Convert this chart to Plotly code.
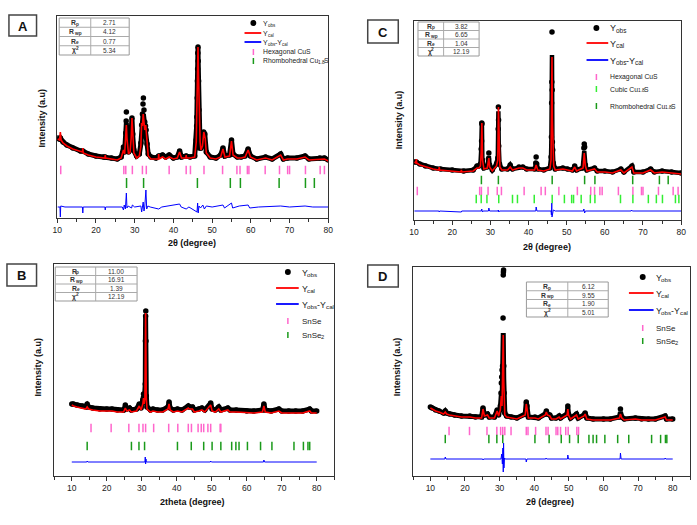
import numpy as np
import plotly.graph_objects as go

W, H = 697, 525
FONT = "Liberation Sans"

# ---------------- Panel A : CuS / Cu1.8S ----------------
A_obs = [(10.1,80),(10.5,79),(10.8,80),(11.5,76),(12.5,73),(14,70),(16,67),(16.6,67),(18,64),(20,62),(22,61),
         (22.4,61),(24,60),(25.5,59),(26.5,61),(27.1,71),(27.4,66),(27.7,85),(27.8,97),(27.85,106),(27.95,88),
         (28.1,74),(28.4,66),(28.8,68),(29.1,82),(29.3,100),(29.5,84),(29.8,68),(30.5,62),(31.2,64),(31.6,75),
         (31.8,93),(32.0,104),(32.15,114),(32.25,120),(32.4,108),(32.6,96),(32.8,92),(32.95,88),(33.2,74),
         (33.5,64),(34.2,61),(35.5,60),(36.2,62),(37.2,63),(38.0,61),(38.9,63),(40.0,60),(41.0,61),(41.6,67),
         (42.1,61),(43.3,62),(44.3,61),(45.5,62),(45.9,78),(46.0,92),(46.05,101),(46.15,120),(46.2,137),
         (46.25,149),(46.3,165),(46.35,171),(46.4,157),(46.5,137),(46.6,108),(46.7,83),(46.9,70),(47.1,70),
         (47.5,74),(47.8,86),(48.1,84),(48.5,66),(49.5,61),(51.0,60),(52.2,63),(52.8,70),(53.3,62),(54.5,63),
         (55.0,78),(55.4,64),(56.5,61),(57.5,61),(58.5,62),(59.3,69),(59.9,62),(61.5,59),(63.8,61),(65.5,59),
         (67.7,64),(68.4,59),(69.5,60),(71.9,60),(74.0,62),(75.0,59),(77.8,60),(79.0,60),(80.0,58)]
A_cal = [(10.1,79),(10.6,78),(10.8,86),(11.0,78),(11.5,75),(12.5,72),(14,69),(16,66),(16.5,66),(16.6,70),
         (16.7,65),(18,63),(20,61),(22.3,60),(22.4,63),(22.5,60),(24,59),(25.5,58),(26.5,60),(27.1,68),
         (27.4,64),(27.7,80),(27.85,93),(28.0,80),(28.4,64),(28.8,66),(29.1,80),(29.3,100),(29.5,80),(29.8,65),
         (30.5,60),(31.2,62),(31.6,72),(31.8,95),(32.0,92),(32.2,104),(32.4,96),(32.6,88),(32.85,93),(33.0,86),
         (33.2,70),(33.5,62),(34.2,59),(35.5,59),(36.1,59),(36.2,64),(36.3,59),(37.2,61),(38.0,59),(38.9,61),
         (40.0,59),(41.0,60),(41.6,66),(42.1,60),(43.2,60),(43.3,63),(43.4,60),(44.3,60),(45.5,61),(45.9,76),
         (46.1,120),(46.3,168),(46.35,171),(46.5,140),(46.7,100),(46.9,76),(47.1,68),(47.5,72),(47.85,86),
         (48.2,80),(48.5,65),(49.5,60),(51.0,59),(52.2,61),(52.8,69),(53.3,61),(54.5,62),(55.0,77),(55.4,63),
         (56.5,60),(57.5,60),(58.5,61),(59.3,68),(59.9,61),(61.5,58),(63.8,60),(65.5,58),(67.7,63),(68.4,58),
         (69.5,59),(71.9,59),(74.0,61),(75.0,58),(77.8,59),(79.0,59),(80.0,57)]
A_diff = [(10.1,11),(10.7,11),(10.8,1),(10.9,12),(12,11),(16.5,11),(16.6,5),(16.7,11),(22.3,11),(22.4,8),
          (22.5,11),(26.8,11),(27.1,8),(27.3,13),(27.6,9),(27.85,25),(28.0,10),(28.3,12),(29.2,10),(29.4,13),
          (30,11),(31.6,12),(31.8,6),(32.0,14),(32.2,16),(32.4,7),(32.6,11),(32.9,28),(33.1,9),(33.4,12),(34,11),
          (36.2,9),(37,11),(41.6,14),(42,11),(43.3,9),(44,11),(46.1,6),(46.25,15),(46.4,5),(46.6,12),(47.0,10),
          (47.6,13),(48,9),(48.5,12),(50,11),(52.8,13),(53.2,10),(55.0,15),(55.3,10),(57,12),(59.3,13),(59.7,10),
          (62,11),(67.7,12),(70,11),(74,12),(76,11),(78,11),(80,11)]
A_hex_CuS = [10.9,27.2,27.7,29.4,32.0,33.0,38.9,43.3,44.4,47.9,52.7,56.4,57.2,59.1,59.5,63.7,67.4,69.5,70.0,74.1,77.9,79.0]
A_rhomb = [27.9,32.3,46.2,54.7,57.3,67.3,74.1,76.4]
A_stats = ["2.71", "4.12", "0.77", "5.34"]

# ---------------- Panel C : CuS / Cu1.8S (cubic + rhombohedral) ----------------
C_obs = [(10.1,58),(10.6,58),(11.5,56),(13,54),(15,52),(17,51),(20,50),(23,49),(25.5,50),(26.5,54),(27.0,54),
         (27.4,56),(27.6,71),(27.7,79),(27.75,97),(27.8,96),(27.9,60),(28.3,52),(29.2,53),(29.5,61),(29.6,67),
         (29.8,55),(30.5,50),(31.6,56),(31.8,58),(31.95,62),(32.05,91),(32.1,113),(32.15,100),(32.2,74),
         (32.4,56),(33,51),(34.5,51),(35.2,55),(35.8,51),(37.5,53),(38.5,53),(39.5,51),(41.6,51),(41.9,57),
         (42.0,63),(42.15,56),(42.5,51),(44,50),(45.6,52),(45.9,63),(46.0,83),(46.05,117),(46.1,138),
         (46.15,188),(46.2,130),(46.25,78),(46.35,70),(46.5,57),(47,51),(49,52),(50.2,51),(51.5,50),(52.1,54),
         (52.6,50),(54.2,52),(54.5,72),(54.6,76),(54.7,73),(54.9,55),(55.3,50),(57.3,52),(58,49),(60,49),
         (62,48),(64.2,51),(65,48),(67.1,54),(67.6,48),(70,48),(72,51),(73,48),(75,49),(77.5,48),(80,47)]
C_cal = [(10.1,58),(10.5,57),(10.6,61),(10.7,57),(11.5,55),(13,53),(15,51),(16.5,50),(16.6,53),(16.7,50),
         (20,49),(22.3,48),(22.4,50),(22.5,48),(25.5,49),(26.5,52),(27.0,52),(27.4,54),(27.6,68),(27.77,97),
         (27.95,60),(28.3,51),(29.2,52),(29.6,62),(29.8,53),(30.5,49),(31.6,54),(31.8,57),(31.95,60),
         (32.12,113),(32.3,62),(32.5,53),(33,50),(34.5,50),(35.2,53),(35.8,50),(37.5,52),(38.5,52),(39.5,50),
         (41.6,50),(42.0,55),(42.4,50),(44,49),(45.6,51),(45.9,60),(46.05,110),(46.15,163),(46.25,100),
         (46.4,62),(46.6,54),(47,50),(49,51),(50.2,50),(51.5,49),(52.1,53),(52.6,49),(54.3,52),(54.6,67),
         (54.9,54),(55.3,49),(57.3,51),(58,48),(60,48),(62,47),(64.2,50),(65,47),(67.1,53),(67.6,47),(70,47),
         (72,50),(73,47),(75,48),(77.5,47),(80,46)]
C_diff = [(10.1,9),(16.5,9),(16.6,8),(16.7,9),(22.4,8),(22.5,9),(27.6,9),(27.75,11),(27.9,8),(28.1,9),
          (29.5,9),(29.6,12),(29.8,9),(32.0,9),(32.1,10),(32.2,8),(32.4,9),(41.9,9),(42,13),(42.2,9),(45.9,9),
          (46.0,5),(46.1,17),(46.15,3),(46.2,15),(46.3,6),(46.5,10),(47,9),(54.4,9),(54.5,11),(54.7,7),
          (54.9,9),(66.9,9),(67,10),(67.2,9),(80,9)]
C_hex_CuS = [10.85,27.2,27.65,29.4,31.8,32.9,38.85,43.3,44.4,47.95,52.8,56.3,57.3,58.7,59.3,63.55,67.35,69.6,70.0,74.05,77.9,79.2]
C_cubic = [26.3,27.6,29.1,32.2,35.8,37.1,41.5,46.2,49.4,51.3,51.8,53.8,56.2,57.4,64.1,67.35,71.4,73.5,75.1,78.5,79.4]
C_rhomb = [27.65,32.1,46.2,54.7,57.4,67.3,74.3,76.6]
C_stats = ["3.82", "6.65", "1.04", "12.19"]

# ---------------- Panel B : SnSe / SnSe2 ----------------
B_obs = [(10.0,72),(10.5,72),(11.5,71),(13,70),(14.0,70),(14.4,72),(14.8,69),(16,68),(18,67),(20,67),(21.5,67),
         (23,66),(24.8,66),(25.3,71),(25.7,67),(26.5,68),(27,66),(28.5,67),(29.3,72),(29.8,68),(30.3,76),
         (30.5,82),(30.7,75),(30.9,80),(31.0,92),(31.05,135),(31.1,160),(31.15,165),(31.2,135),(31.3,80),
         (31.5,69),(32.5,66),(33.2,67),(34.5,66),(36,66),(37.5,69),(37.8,74),(38.1,68),(39,66),(40.2,67),
         (41.5,66),(43.3,70),(43.6,69),(44.5,69),(45,66),(46.3,67),(47.2,68),(48,66),(49.7,73),(50.1,67),(51,66),
         (52,69),(52.6,66),(54.6,68),(55.2,66),(57,66),(60,65),(62,65),(64.5,66),(64.9,72),(65.3,66),(67,65),
         (69.2,67),(70,65),(72,65),(74,65),(76,65),(78,67),(78.5,65),(80,65)]
B_cal = [(10.0,71),(10.5,70),(11.5,69),(13,68),(14.0,67),(14.4,69),(14.8,67),(16,66),(18,65),(20,65),(21.5,65),
         (23,64),(24.8,64),(25.3,68),(25.7,65),(26.5,66),(27,64),(28.5,65),(29.3,70),(29.8,66),(30.3,72),
         (30.5,78),(30.7,72),(30.9,78),(31.1,163),(31.3,78),(31.5,67),(32.5,64),(33.2,65),(34.5,64),(36,64),
         (37.5,67),(37.8,72),(38.1,66),(39,64),(40.2,65),(41.5,64),(43.3,68),(43.6,67),(44.5,67),(45,64),
         (46.3,65),(47.2,66),(48,64),(49.7,71),(50.1,65),(51,64),(52,67),(52.6,64),(54.6,66),(55.2,64),(57,64),
         (60,63),(62,63),(64.5,64),(64.9,70),(65.3,64),(67,63),(69.2,65),(70,63),(72,63),(74,63),(76,63),
         (78,65),(78.5,63),(80,63)]
B_diff = [(10.0,14),(14.3,14),(14.4,15),(14.6,14),(30.9,14),(31.0,19),(31.1,12),(31.2,17),(31.3,14),(49.6,14),
          (49.7,15),(49.9,14),(64.8,14),(64.9,16),(65.1,14),(80,14)]
B_SnSe = [15.5,21.25,26.3,29.2,30.35,31.1,33.4,37.7,40.3,43.3,44.2,46.1,47.0,47.7,48.9,49.7,52.4,52.6]
B_SnSe2 = [14.4,27.05,29.2,30.8,40.2,44.15,47.7,50.1,52.6,55.7,56.9,57.8,60.2,63.95,67.2,73.5,76.2,77.5,78.0]
B_stats = ["11.00", "16.91", "1.39", "12.19"]

# ---------------- Panel D : SnSe / SnSe2 ----------------
D_obs = [(10.0,69),(10.5,68),(11.5,66),(12.5,65),(13.8,63),(14.3,65),(14.7,63),(15.5,62),(17,61),(19,60),
         (21.4,60),(23,59),(24.8,59),(25.2,68),(25.6,61),(26.5,62),(27,59),(28.5,59),(29.3,66),(29.7,61),
         (30.2,70),(30.4,83),(30.5,93),(30.6,99),(30.7,106),(30.85,110),(31.0,158),(31.05,201),(31.1,204),
         (31.15,206),(31.2,110),(31.3,83),(31.5,63),(32,60),(33.3,59),(35,58),(37.4,62),(37.7,74),(37.9,70),
         (38.3,59),(40.2,59),(41.2,58),(43.2,62),(43.5,65),(43.8,62),(44.5,61),(45,58),(46.3,58),(47.2,60),
         (47.6,58),(49.5,62),(49.7,70),(49.9,62),(50.5,58),(52.2,62),(52.7,58),(54.4,61),(54.7,63),(55.2,58),
         (57,57),(60,57),(62,57),(64.6,59),(64.9,67),(65.3,59),(66,57),(69.2,58),(71,57),(73,57),(75,57),
         (77.8,60),(78.2,57),(80,57)]
D_cal = [(10.0,68),(10.5,67),(11.5,65),(12.5,64),(13.8,62),(14.3,64),(14.7,62),(15.5,61),(17,60),(19,59),
         (21.4,59),(23,58),(24.8,58),(25.2,67),(25.6,60),(26.5,61),(27,58),(28.5,58),(29.3,65),(29.7,60),
         (30.2,66),(30.5,80),(30.7,70),(30.9,95),(31.05,141),(31.2,95),(31.35,65),(31.5,61),(32,59),(33.3,58),
         (35,57),(37.4,61),(37.7,72),(37.9,68),(38.3,58),(40.2,58),(41.2,57),(43.2,61),(43.5,64),(43.8,61),
         (44.5,60),(45,57),(46.3,57),(47.2,59),(47.6,57),(49.5,61),(49.7,67),(49.9,61),(50.5,57),(52.2,61),
         (52.7,57),(54.4,60),(54.7,62),(55.2,57),(57,56),(60,56),(62,56),(64.6,58),(64.9,62),(65.3,58),(66,56),
         (69.2,57),(71,56),(73,56),(75,56),(77.8,59),(78.2,56),(80,56)]
D_diff = [(10.0,17),(14.2,17),(14.3,19),(14.5,17),(25.1,17),(25.2,16),(25.4,17),(30.4,17),(30.6,22),(30.8,12),
          (30.95,28),(31.05,4),(31.15,33),(31.25,8),(31.4,18),(31.6,17),(37.6,17),(37.7,14),(37.9,17),(43.3,17),
          (43.4,18),(43.6,17),(49.6,17),(49.7,21),(49.9,17),(64.8,17),(64.9,23),(65.1,17),(77.7,17),(77.8,18),
          (78.0,17),(80,17)]
D_SnSe = [15.4,21.3,26.35,29.2,30.3,30.9,31.5,33.3,37.7,38.2,40.4,43.4,44.0,46.3,46.8,47.6,49.1,49.8,52.3,52.8]
D_SnSe2 = [14.3,26.9,29.2,30.9,40.2,44.3,47.8,50.2,52.7,55.8,57.0,58.0,60.4,64.1,67.3,73.9,76.5,77.9,78.3]
D_stats = ["6.12", "9.55", "1.90", "5.01"]

# label texts split into (text, role) pieces: n = normal, sub = subscript, sup = superscript
STAT_LABELS = [[("R", "n"), ("p", "sub")], [("R", "n"), ("wp", "sub")], [("R", "n"), ("e", "sub")],
               [("χ", "n"), ("2", "sup")]]
YOBS = [("Y", "n"), ("obs", "sub")]
YCAL = [("Y", "n"), ("cal", "sub")]
YDIF = [("Y", "n"), ("obs", "sub"), ("-Y", "n"), ("cal", "sub")]
CU18 = [("Rhombohedral Cu", "n"), ("1.8", "sub"), ("S", "n")]
CUB18 = [("Cubic Cu", "n"), ("1.8", "sub"), ("S", "n")]
HEX = [("Hexagonal CuS", "n")]
SNSE = [("SnSe", "n")]
SNSE2 = [("SnSe", "n"), ("2", "sub")]

PINK = "#ff66cc"
DKGREEN = "#1a9a1a"
LTGREEN = "#33ee33"

# ---------------- helpers ----------------
def px(x):
    return x / W

def py(y):
    return 1 - y / H

# Arial / Liberation Sans advance widths (1/1000 em)
_REG = {" ": 278, "-": 333, ".": 278, "A": 667, "C": 722, "H": 722, "R": 722, "S": 667, "Y": 667, "a": 556,
        "b": 556, "c": 500, "d": 556, "e": 556, "g": 556, "h": 556, "i": 222, "l": 222, "m": 833, "n": 556,
        "o": 556, "p": 556, "r": 333, "s": 500, "u": 556, "w": 722, "x": 500, "χ": 520}
_BOLD = {"R": 722, "p": 611, "w": 778, "e": 556, "χ": 560}

def tw(s, size, bold=False):
    tab = _BOLD if bold else _REG
    return sum(tab.get(ch, _REG.get(ch, 556)) for ch in s) * size / 1000.0

fig = go.Figure()
shapes = []
annots = []

def text(x, y, s, size, bold=False, angle=0, xanchor="center", color="#111"):
    annots.append(dict(x=px(x), y=py(y), xref="paper", yref="paper", text=("<b>%s</b>" % s) if bold else s,
                       showarrow=False, textangle=angle, xanchor=xanchor, yanchor="middle", borderpad=0,
                       borderwidth=0, font=dict(family=FONT, size=size, color=color)))

def rich(x, y, parts, size, anchor="left", bold=False, color="#222", ratio=0.72):
    sizes = [size if k == "n" else size * ratio for t, k in parts]
    widths = [tw(t, s, bold) for (t, k), s in zip(parts, sizes)]
    x0 = x if anchor == "left" else x - sum(widths) / 2.0
    for (t, k), s, w in zip(parts, sizes, widths):
        dy = 0 if k == "n" else (0.24 * size if k == "sub" else -0.3 * size)
        text(x0, y + dy, t, s, bold=bold, xanchor="left", color=color)
        x0 += w

panels = [
    dict(k="A", ax="", xd=(53, 328), yd=(16, 218), xr=[10, 80], yr=[0, 202], band=5),
    dict(k="C", ax="2", xd=(415, 686), yd=(21, 220), xr=[10, 80], yr=[0, 199], band=4.5),
    dict(k="B", ax="3", xd=(50, 334), yd=(264, 476), xr=[5, 85], yr=[0, 212], band=5),
    dict(k="D", ax="4", xd=(414, 695), yd=(267, 476), xr=[5, 85], yr=[0, 209], band=5),
]

series = {
    "A": (A_obs, A_cal, A_diff, [(A_hex_CuS, 48, PINK, 6), (A_rhomb, 35, DKGREEN, 7)]),
    "C": (C_obs, C_cal, C_diff, [(C_rhomb, 40, DKGREEN, 6), (C_hex_CuS, 29, PINK, 6), (C_cubic, 21, LTGREEN, 6)]),
    "B": (B_obs, B_cal, B_diff, [(B_SnSe, 48, PINK, 6), (B_SnSe2, 30, DKGREEN, 6)]),
    "D": (D_obs, D_cal, D_diff, [(D_SnSe, 45, PINK, 6), (D_SnSe2, 37, DKGREEN, 6)]),
}

axis_font = dict(family=FONT, size=8.5, color="#222")
layout_axes = {}
for p in panels:
    obs, cal, diff, ticks = series[p["k"]]
    xa, ya = "x" + p["ax"], "y" + p["ax"]
    xo = np.array([a for a, b in obs]); yo = np.array([b for a, b in obs])
    xc = np.array([a for a, b in cal]); yc = np.array([b for a, b in cal])
    # dense black band of observed points: follows Yobs but stays under the fitted profile at peak tops
    band_y = np.minimum(yo, np.interp(xo, xc, yc) + 2)
    fig.add_trace(go.Scatter(x=xo, y=band_y, mode="lines", line=dict(color="black", width=p["band"]),
                             xaxis=xa, yaxis=ya, showlegend=False, hoverinfo="skip"))
    fig.add_trace(go.Scatter(x=xo, y=yo, mode="markers", marker=dict(color="black", size=5.5),
                             xaxis=xa, yaxis=ya, showlegend=False))
    fig.add_trace(go.Scatter(x=xc, y=yc, mode="lines",
                             line=dict(color="#ff0000", width=1.6), xaxis=xa, yaxis=ya, showlegend=False))
    fig.add_trace(go.Scatter(x=[a for a, b in diff], y=[b for a, b in diff], mode="lines",
                             line=dict(color="#0000ff", width=1), xaxis=xa, yaxis=ya, showlegend=False))
    for pos, lvl, col, sz in ticks:
        fig.add_trace(go.Scatter(x=pos, y=[lvl] * len(pos), mode="markers",
                                 marker=dict(symbol="line-ns", size=sz, line=dict(color=col, width=1.5)),
                                 xaxis=xa, yaxis=ya, showlegend=False))
    xd = [px(p["xd"][0]), px(p["xd"][1])]
    yd = [py(p["yd"][1]), py(p["yd"][0])]
    layout_axes["xaxis" + p["ax"]] = dict(
        domain=xd, range=p["xr"], anchor=ya, tick0=10, dtick=10, ticks="outside", ticklen=4,
        tickwidth=1, tickcolor="#333", minor=dict(dtick=5, tick0=5, ticks="outside", ticklen=2.5, tickcolor="#333"),
        showline=True, mirror=True, linecolor="#333", linewidth=1, showgrid=False, zeroline=False,
        tickfont=axis_font, fixedrange=True)
    layout_axes["yaxis" + p["ax"]] = dict(
        domain=yd, range=p["yr"], anchor=xa, showticklabels=False, ticks="", showline=True, mirror=True,
        linecolor="#333", linewidth=1, showgrid=False, zeroline=False, fixedrange=True)

# axis titles
text(190, 243, "2θ (degree)", 9, bold=True)
text(550, 247, "2θ (degree)", 9, bold=True)
text(190, 502, "2theta (degree)", 9, bold=True)
text(553, 502, "2θ (degree)", 9, bold=True)
for (x, y) in [(38, 118), (400, 120), (33, 367), (398, 367)]:
    text(x, y, "Intensity (a.u)", 9, bold=True, angle=-90)

# panel label boxes
for lab, (x0, y0, x1, y1) in [("A", (4, 15, 32, 36)), ("C", (368, 20, 399, 43)),
                              ("B", (2, 264, 32, 286)), ("D", (368, 265, 399, 287))]:
    shapes.append(dict(type="rect", xref="paper", yref="paper", x0=px(x0), x1=px(x1), y0=py(y1), y1=py(y0),
                       line=dict(color="#444", width=1.5)))
    text((x0 + x1) / 2, (y0 + y1) / 2 + 0.5, lab, 13, bold=True)

# stats tables
def table(x0, x1, xm, y0, y1, vals):
    rh = (y1 - y0) / 4
    shapes.append(dict(type="rect", xref="paper", yref="paper", x0=px(x0), x1=px(x1), y0=py(y1), y1=py(y0),
                       line=dict(color="#999", width=1)))
    shapes.append(dict(type="line", xref="paper", yref="paper", x0=px(xm), x1=px(xm), y0=py(y1), y1=py(y0),
                       line=dict(color="#aaa", width=1)))
    for i in range(1, 4):
        yy = y0 + i * rh
        shapes.append(dict(type="line", xref="paper", yref="paper", x0=px(x0), x1=px(x1), y0=py(yy), y1=py(yy),
                           line=dict(color="#aaa", width=1)))
    for i in range(4):
        yc = y0 + (i + 0.5) * rh
        rich((x0 + xm) / 2, yc, STAT_LABELS[i], 6.8, anchor="center", bold=True, color="#333", ratio=0.7)
        text((xm + x1) / 2, yc, vals[i], 6.5, color="#333")

table(55, 126, 87, 18, 55, A_stats)
table(419, 481, 445, 22, 56, C_stats)
table(51, 134, 92, 267, 301, B_stats)
table(529, 612, 571, 282, 317, D_stats)

# legends
def legend(xs, xl0, xl1, xt, items, ysize, size, yratio):
    for kind, y, parts, col in items:
        if kind == "dot":
            shapes.append(dict(type="circle", xref="paper", yref="paper", x0=px(xs - 3), x1=px(xs + 3),
                               y0=py(y + 3), y1=py(y - 3), fillcolor="black", line=dict(color="black", width=0)))
        elif kind == "line":
            shapes.append(dict(type="line", xref="paper", yref="paper", x0=px(xl0), x1=px(xl1), y0=py(y), y1=py(y),
                               line=dict(color=col, width=1.8)))
        else:
            shapes.append(dict(type="line", xref="paper", yref="paper", x0=px(xs), x1=px(xs), y0=py(y - 3),
                               y1=py(y + 3), line=dict(color=col, width=1.5)))
        if kind in ("dot", "line"):
            rich(xt, y + 0.5, parts, ysize, ratio=yratio)
        else:
            rich(xt, y, parts, size, ratio=0.72)

legend(252, 243, 260, 262, [("dot", 23, YOBS, "black"), ("line", 33, YCAL, "#ff0000"),
                            ("line", 42, YDIF, "#0000ff"), ("tick", 52, HEX, PINK),
                            ("tick", 61, CU18, DKGREEN)], 7, 6.8, 0.65)
legend(600, 590, 612, 614, [("dot", 28, YOBS, "black"), ("line", 43, YCAL, "#ff0000"),
                            ("line", 60, YDIF, "#0000ff"), ("tick", 77, HEX, PINK),
                            ("tick", 89, CUB18, LTGREEN), ("tick", 106, CU18, DKGREEN)], 9, 6.8, 0.72)
legend(287, 275, 298, 301, [("dot", 272, YOBS, "black"), ("line", 288, YCAL, "#ff0000"),
                            ("line", 304, YDIF, "#0000ff"), ("tick", 321, SNSE, PINK),
                            ("tick", 335, SNSE2, DKGREEN)], 8.7, 8, 0.72)
legend(647, 633, 658, 660, [("dot", 277, YOBS, "black"), ("line", 293, YCAL, "#ff0000"),
                            ("line", 310, YDIF, "#0000ff"), ("tick", 328, SNSE, PINK),
                            ("tick", 341, SNSE2, DKGREEN)], 8.7, 8, 0.72)

fig.update_layout(width=W, height=H, margin=dict(l=0, r=0, t=0, b=0), paper_bgcolor="white",
                  plot_bgcolor="white", showlegend=False, shapes=shapes, annotations=annots,
                  font=dict(family=FONT), **layout_axes)
fig.write_html("out.html", config={"displayModeBar": False},
               post_script="document.body.style.margin='0px';document.body.style.padding='0px';")
